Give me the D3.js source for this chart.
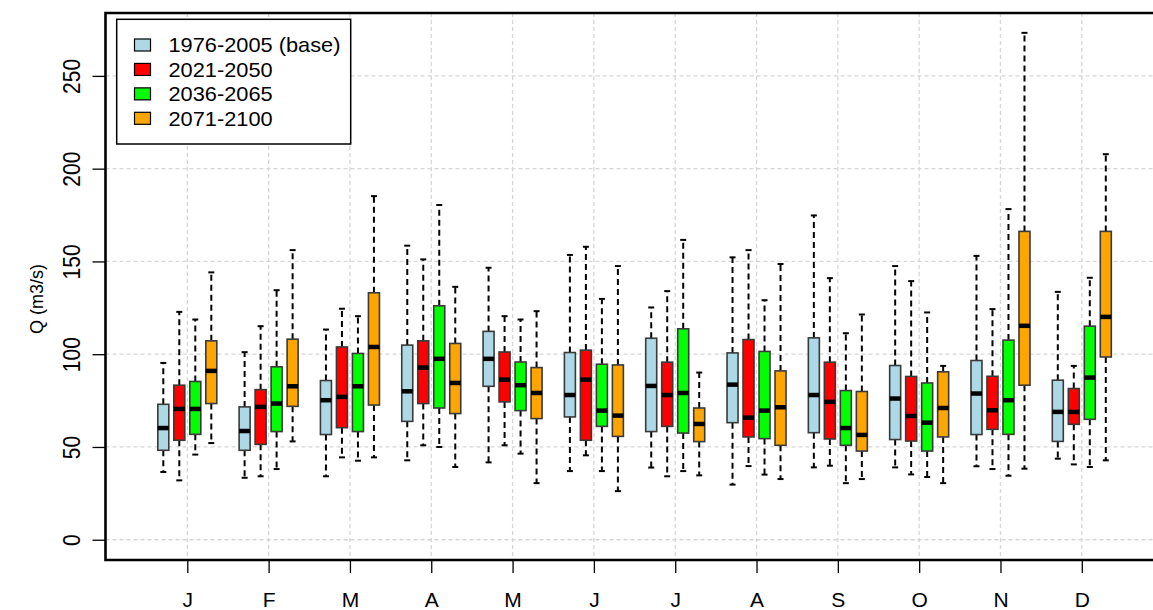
<!DOCTYPE html>
<html>
<head>
<meta charset="utf-8">
<script src="https://cdn.jsdelivr.net/npm/d3@7"></script>
<style>
  html, body { margin: 0; padding: 0; background: #fff; overflow: hidden; }
  svg { display: block; }
  text { font-family: "Liberation Sans", Arial, sans-serif; fill: #000; }
</style>
</head>
<body>
<svg id="chart" width="1153" height="610"></svg>
<script>
// ---- Data ----
const months = ["J","F","M","A","M","J","J","A","S","O","N","D"];
const seriesNames = ["1976-2005 (base)", "2021-2050", "2036-2065", "2071-2100"];
const seriesColors = ["#ADD8E6", "#FF0000", "#00FF00", "#FFA500"];
const yTicks = [0, 50, 100, 150, 200, 250];
const yLabel = "Q (m3/s)";

// each row: [lower whisker, Q1, median, Q3, upper whisker]
const base = [
  [36.5, 48.2, 60.2, 73.0, 95.3],
  [33.4, 48.2, 58.6, 71.6, 101.1],
  [34.2, 56.7, 75.2, 85.8, 113.3],
  [42.8, 63.8, 80.0, 104.9, 158.5],
  [41.7, 82.7, 97.5, 112.3, 146.6],
  [37.0, 66.2, 78.0, 100.9, 153.5],
  [38.9, 58.3, 82.9, 108.6, 125.2],
  [29.7, 63.1, 83.6, 100.7, 152.2],
  [39.0, 57.7, 78.0, 108.8, 174.8],
  [39.0, 54.0, 76.1, 93.9, 147.5],
  [39.6, 56.7, 78.8, 96.6, 153.0],
  [43.7, 53.0, 68.9, 86.0, 133.6]
];
const p2021 = [
  [32.0, 53.6, 70.5, 83.3, 122.8],
  [34.2, 51.4, 71.6, 80.9, 115.1],
  [44.4, 60.4, 77.0, 103.9, 124.5],
  [50.9, 73.4, 92.8, 107.2, 151.1],
  [50.9, 74.3, 86.3, 101.2, 120.5],
  [45.5, 53.6, 86.3, 102.2, 157.9],
  [34.2, 61.1, 78.0, 95.7, 134.0],
  [39.7, 55.4, 65.8, 107.9, 156.1],
  [39.9, 54.3, 74.3, 95.7, 141.0],
  [35.2, 53.2, 66.7, 88.0, 139.4],
  [38.1, 59.5, 69.8, 88.1, 124.3],
  [40.6, 62.2, 68.9, 81.5, 93.7]
];
const p2036 = [
  [45.9, 56.8, 70.5, 85.3, 118.7],
  [38.1, 58.3, 73.4, 93.2, 134.5],
  [42.6, 58.3, 82.7, 100.4, 120.5],
  [50.0, 71.0, 97.5, 126.1, 180.4],
  [46.4, 69.6, 83.3, 95.8, 118.7],
  [37.0, 61.1, 69.6, 94.6, 129.8],
  [37.0, 57.5, 79.1, 113.7, 161.6],
  [35.1, 54.5, 69.6, 101.5, 129.1],
  [30.5, 50.9, 60.2, 80.4, 111.3],
  [33.8, 47.8, 63.1, 84.5, 122.5],
  [34.5, 56.8, 75.2, 107.6, 178.2],
  [39.2, 64.9, 87.4, 115.1, 141.2]
];
const p2071 = [
  [52.1, 73.4, 91.0, 107.2, 144.1],
  [53.0, 71.9, 82.7, 108.1, 156.1],
  [44.4, 72.6, 103.9, 133.1, 185.2],
  [39.2, 68.0, 84.5, 105.8, 136.3],
  [30.5, 65.3, 79.1, 92.8, 123.2],
  [26.2, 55.7, 66.9, 94.2, 147.5],
  [34.7, 52.9, 62.4, 71.0, 90.1],
  [32.7, 50.9, 71.4, 91.0, 148.6],
  [32.7, 47.8, 56.5, 79.9, 121.4],
  [30.5, 55.4, 71.0, 90.5, 93.7],
  [38.3, 83.3, 115.3, 166.2, 273.2],
  [42.8, 98.5, 120.1, 166.2, 207.8]
];
const seriesData = [base, p2021, p2036, p2071];

// ---- Layout ----
const svg = d3.select("#chart");
const frame = { left: 105.5, top: 13, right: 1153, bottom: 560 };

const x = d3.scalePoint()
  .domain(d3.range(months.length))
  .range([187.3, 1081.8]);
const inner = d3.scaleBand()
  .domain(d3.range(seriesNames.length))
  .range([-32, 32]);
const y = d3.scaleLinear()
  .domain([-10.92, 283.9])
  .range([frame.bottom, frame.top]);

const boxW = 11;
const capW = 6;

// grid
const grid = svg.append("g");
grid.selectAll("line.h").data(yTicks).join("line")
  .attr("x1", frame.left).attr("x2", frame.right)
  .attr("y1", d => y(d)).attr("y2", d => y(d))
  .attr("stroke", "#d6d6d6").attr("stroke-width", 1.3)
  .attr("stroke-dasharray", "4,3");
grid.selectAll("line.v").data(d3.range(months.length)).join("line")
  .attr("x1", d => x(d)).attr("x2", d => x(d))
  .attr("y1", frame.top).attr("y2", frame.bottom)
  .attr("stroke", "#d6d6d6").attr("stroke-width", 1.3)
  .attr("stroke-dasharray", "4,3");

// boxes
seriesData.forEach((data, s) => {
  const g = svg.append("g");
  const items = data.map((v, i) => ({ i, v, cx: x(i) + inner(s) + inner.bandwidth() / 2 }));
  const b = g.selectAll("g").data(items).join("g");
  // whiskers
  b.append("line")
    .attr("x1", d => d.cx).attr("x2", d => d.cx)
    .attr("y1", d => y(d.v[3])).attr("y2", d => y(d.v[4]))
    .attr("stroke", "#000").attr("stroke-width", 2).attr("stroke-dasharray", "6,4");
  b.append("line")
    .attr("x1", d => d.cx).attr("x2", d => d.cx)
    .attr("y1", d => y(d.v[1])).attr("y2", d => y(d.v[0]))
    .attr("stroke", "#000").attr("stroke-width", 2).attr("stroke-dasharray", "6,4");
  // caps
  [0, 4].forEach(k => {
    b.append("line")
      .attr("x1", d => d.cx - capW / 2).attr("x2", d => d.cx + capW / 2)
      .attr("y1", d => y(d.v[k])).attr("y2", d => y(d.v[k]))
      .attr("stroke", "#000").attr("stroke-width", 2);
  });
  // box
  b.append("rect")
    .attr("x", d => d.cx - boxW / 2).attr("width", boxW)
    .attr("y", d => y(d.v[3])).attr("height", d => y(d.v[1]) - y(d.v[3]))
    .attr("fill", seriesColors[s]).attr("stroke", "#3a3a3a").attr("stroke-width", 1.6);
  // median
  b.append("line")
    .attr("x1", d => d.cx - boxW / 2).attr("x2", d => d.cx + boxW / 2)
    .attr("y1", d => y(d.v[2])).attr("y2", d => y(d.v[2]))
    .attr("stroke", "#000").attr("stroke-width", 4.5);
});

// axes
const yAxis = svg.append("g")
  .attr("transform", `translate(${frame.left},0)`)
  .call(d3.axisLeft(y).tickValues(yTicks).tickSize(13).tickFormat(""));
yAxis.select(".domain").remove();
yAxis.selectAll(".tick line").attr("stroke", "#000").attr("stroke-width", 1.3);
yAxis.selectAll(".tick").append("text")
  .attr("transform", "translate(-26,0) scale(1.15,1) rotate(-90)")
  .attr("text-anchor", "middle")
  .style("font-size", "21px")
  .text(d => d);

const xAxis = svg.append("g")
  .attr("transform", `translate(0,${frame.bottom})`)
  .call(d3.axisBottom(x).tickSize(13).tickFormat(""));
xAxis.select(".domain").remove();
xAxis.selectAll(".tick line").attr("stroke", "#000").attr("stroke-width", 1.3);
xAxis.selectAll(".tick").append("text")
  .attr("y", 46.5)
  .attr("text-anchor", "middle")
  .style("font-size", "21px")
  .text(d => months[d]);

// y title
svg.append("text")
  .attr("transform", "translate(43,299) rotate(-90)")
  .attr("text-anchor", "middle")
  .style("font-size", "18px")
  .text(yLabel);

// frame (left, top, bottom; right side runs off the image)
const fr = svg.append("g").attr("stroke", "#000").attr("stroke-width", 2.6).attr("fill", "none");
fr.append("path")
  .attr("d", `M${frame.right + 5},${frame.top}H${frame.left}V${frame.bottom}H${frame.right + 5}`);

// legend
const lg = svg.append("g");
lg.append("rect")
  .attr("x", 116.7).attr("y", 19.3).attr("width", 234).attr("height", 124.7)
  .attr("fill", "#fff").attr("stroke", "#000").attr("stroke-width", 1.5);
const rowY = d3.scaleLinear().domain([0, 3]).range([45, 118.3]);
const rows = lg.selectAll("g.row").data(seriesNames).join("g")
  .attr("transform", (d, i) => `translate(0,${rowY(i)})`);
rows.append("rect")
  .attr("x", 134.5).attr("y", -6).attr("width", 16).attr("height", 12)
  .attr("fill", (d, i) => seriesColors[i]).attr("stroke", "#000").attr("stroke-width", 1.2);
rows.append("text")
  .attr("transform", "translate(168.5,7.3) scale(1.09,1)")
  .style("font-size", "20px")
  .text(d => d);
</script>
</body>
</html>
